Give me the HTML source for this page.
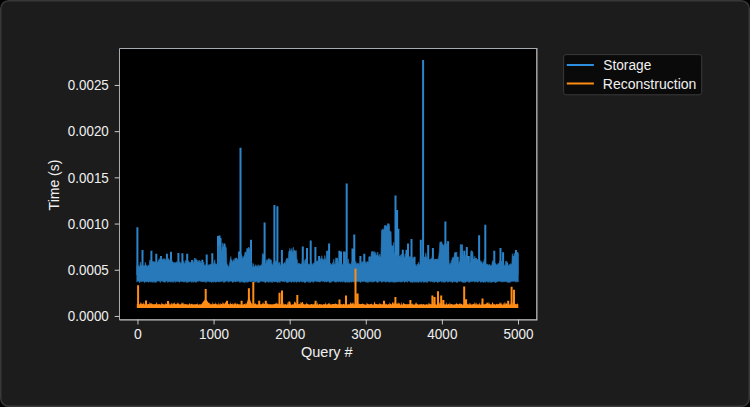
<!DOCTYPE html>
<html><head><meta charset="utf-8"><style>
html,body{margin:0;padding:0;background:#000;width:750px;height:407px;overflow:hidden}
svg{position:absolute;left:0;top:0}
text{font-family:"Liberation Sans",sans-serif;font-size:14px;fill:#f0f0f0}
</style></head><body>
<svg width="750" height="407" viewBox="0 0 750 407">
<rect x="0.75" y="0.75" width="748.5" height="405.5" rx="8" fill="#1c1c1c" stroke="#383838" stroke-width="1.5"/><rect x="120" y="49" width="416" height="270" fill="#000"/><path d="M137.4 227.2V275M142.5 250.0V275M151.4 250.8V275M156.3 253.8V275M161.0 256.0V275M166.9 253.8V275M171.0 251.8V275M178.4 253.0V275M182.4 253.3V275M187.2 253.8V275M192.0 260.0V275M196.0 259.7V275M202.3 259.7V275M206.7 254.5V275M212.3 253.3V275M218.0 236.0V275M219.5 235.6V275M220.5 238.0V275M224.4 243.4V275M231.0 259.7V275M235.5 258.2V275M239.1 251.5V275M240.5 147.7V275M245.6 252.3V275M248.0 248.6V275M251.0 239.7V275M263.8 254.5V275M264.6 222.6V275M270.0 259.7V275M274.4 205.0V275M277.4 206.2V275M281.9 250.0V275M286.6 260.4V275M290.0 251.0V275M292.5 252.3V275M295.0 251.0V275M302.8 246.4V275M307.0 247.9V275M310.7 240.5V275M315.4 247.1V275M319.1 256.0V275M327.2 250.8V275M329.1 243.4V275M336.8 258.2V275M339.4 250.8V275M341.0 251.5V275M344.1 251.5V275M346.7 183.6V275M352.5 248.6V275M354.3 234.6V275M360.4 256.0V275M364.3 253.8V275M369.5 256.7V275M372.5 251.8V275M382.5 229.4V275M385.5 225.7V275M388.2 223.6V275M390.3 232.0V275M392.5 246.4V275M395.5 195.4V275M397.1 210.0V275M398.4 228.8V275M402.8 249.7V275M406.5 249.7V275M408.0 243.5V275M411.5 239.0V275M414.5 256.7V275M420.8 239.7V275M423.1 59.9V275M425.5 256.7V275M428.2 244.9V275M432.9 247.9V275M435.9 259.0V275M441.0 242.0V275M445.4 221.6V275M448.1 241.2V275M453.0 259.0V275M455.5 252.3V275M457.7 256.7V275M461.7 244.9V275M464.3 250.8V275M466.8 247.1V275M468.8 256.0V275M471.8 251.5V275M476.0 258.2V275M479.1 235.3V275M485.3 224.7V275M494.3 250.8V275M500.5 247.9V275M503.1 252.3V275M507.1 262.6V275M513.7 256.0V275M516.0 250.0V275M517.4 252.3V275" stroke="#2c85cb" stroke-width="2" fill="none"/><path d="M136.8 266.8 L137.3 263.9 L137.8 264.0 L138.3 266.9 L138.8 265.8 L139.3 266.1 L139.8 267.6 L140.3 261.9 L140.8 264.8 L141.3 265.3 L141.8 265.6 L142.3 263.3 L142.8 265.6 L143.3 265.7 L143.8 266.0 L144.3 265.8 L144.8 265.4 L145.3 262.2 L145.8 264.3 L146.3 266.1 L146.8 265.5 L147.3 265.9 L147.8 266.4 L148.3 265.1 L148.8 266.5 L149.3 264.4 L149.8 259.9 L150.3 260.6 L150.8 261.9 L151.3 262.4 L151.8 261.0 L152.3 262.7 L152.8 261.0 L153.3 262.0 L153.8 261.6 L154.3 262.3 L154.8 261.5 L155.3 263.1 L155.8 262.4 L156.3 263.6 L156.8 261.7 L157.3 262.4 L157.8 262.1 L158.3 260.8 L158.8 259.7 L159.3 259.9 L159.8 258.5 L160.3 257.7 L160.8 258.3 L161.3 256.5 L161.8 259.2 L162.3 259.8 L162.8 259.0 L163.3 260.3 L163.8 258.4 L164.3 259.8 L164.8 258.7 L165.3 260.3 L165.8 260.1 L166.3 258.5 L166.8 256.7 L167.3 260.4 L167.8 260.5 L168.3 258.7 L168.8 258.7 L169.3 260.3 L169.8 260.2 L170.3 260.4 L170.8 259.7 L171.3 259.5 L171.8 259.6 L172.3 261.7 L172.8 262.1 L173.3 262.5 L173.8 263.3 L174.3 262.1 L174.8 263.3 L175.3 263.0 L175.8 262.6 L176.3 261.9 L176.8 261.7 L177.3 262.8 L177.8 263.7 L178.3 263.1 L178.8 262.3 L179.3 262.3 L179.8 261.6 L180.3 262.8 L180.8 263.5 L181.3 262.7 L181.8 263.1 L182.3 263.7 L182.8 263.1 L183.3 263.0 L183.8 260.9 L184.3 263.7 L184.8 263.7 L185.3 262.1 L185.8 260.1 L186.3 263.5 L186.8 261.2 L187.3 261.0 L187.8 260.9 L188.3 260.8 L188.8 261.7 L189.3 262.0 L189.8 262.3 L190.3 262.3 L190.8 263.1 L191.3 263.5 L191.8 260.0 L192.3 262.7 L192.8 260.9 L193.3 262.1 L193.8 263.4 L194.3 258.7 L194.8 258.0 L195.3 262.4 L195.8 258.2 L196.3 261.5 L196.8 262.1 L197.3 262.1 L197.8 260.2 L198.3 261.2 L198.8 262.0 L199.3 260.0 L199.8 263.1 L200.3 260.9 L200.8 262.9 L201.3 262.9 L201.8 263.8 L202.3 263.4 L202.8 261.8 L203.3 262.2 L203.8 262.1 L204.3 265.5 L204.8 265.6 L205.3 265.8 L205.8 264.6 L206.3 265.6 L206.8 265.5 L207.3 265.3 L207.8 265.2 L208.3 265.9 L208.8 264.4 L209.3 265.1 L209.8 265.1 L210.3 264.3 L210.8 263.9 L211.3 263.8 L211.8 264.6 L212.3 263.9 L212.8 262.4 L213.3 264.6 L213.8 264.7 L214.3 261.8 L214.8 259.7 L215.3 264.6 L215.8 263.7 L216.3 264.5 L216.8 263.8 L217.3 263.6 L217.8 246.3 L218.3 246.7 L218.8 245.0 L219.3 247.0 L219.8 245.6 L220.3 245.1 L220.8 249.7 L221.3 253.0 L221.8 248.8 L222.3 242.8 L222.8 248.4 L223.3 245.8 L223.8 246.6 L224.3 247.3 L224.8 246.2 L225.3 245.8 L225.8 248.1 L226.3 247.7 L226.8 263.0 L227.3 265.8 L227.8 264.7 L228.3 267.3 L228.8 267.1 L229.3 265.4 L229.8 262.3 L230.3 260.1 L230.8 256.5 L231.3 260.9 L231.8 260.2 L232.3 261.8 L232.8 261.9 L233.3 259.4 L233.8 261.2 L234.3 260.9 L234.8 260.7 L235.3 258.1 L235.8 258.9 L236.3 257.7 L236.8 258.3 L237.3 259.2 L237.8 260.0 L238.3 258.2 L238.8 255.4 L239.3 254.1 L239.8 255.6 L240.3 254.4 L240.8 252.7 L241.3 254.2 L241.8 255.3 L242.3 257.4 L242.8 259.3 L243.3 256.4 L243.8 258.7 L244.3 255.3 L244.8 254.9 L245.3 252.5 L245.8 251.7 L246.3 253.7 L246.8 248.5 L247.3 249.0 L247.8 249.2 L248.3 247.7 L248.8 247.0 L249.3 249.3 L249.8 248.7 L250.3 247.3 L250.8 262.7 L251.3 260.6 L251.8 262.0 L252.3 266.6 L252.8 267.4 L253.3 263.5 L253.8 266.3 L254.3 266.8 L254.8 266.5 L255.3 265.7 L255.8 264.6 L256.3 265.7 L256.8 267.4 L257.3 265.7 L257.8 265.9 L258.3 264.7 L258.8 267.5 L259.3 265.7 L259.8 266.0 L260.3 265.4 L260.8 266.0 L261.3 264.6 L261.8 266.3 L262.3 257.2 L262.8 253.1 L263.3 256.3 L263.8 265.0 L264.3 266.2 L264.8 263.3 L265.3 263.9 L265.8 264.6 L266.3 260.4 L266.8 259.6 L267.3 261.4 L267.8 260.0 L268.3 258.6 L268.8 259.6 L269.3 258.6 L269.8 261.1 L270.3 260.9 L270.8 259.5 L271.3 259.9 L271.8 263.9 L272.3 264.5 L272.8 265.5 L273.3 262.2 L273.8 264.7 L274.3 261.1 L274.8 263.3 L275.3 260.7 L275.8 262.6 L276.3 261.6 L276.8 260.7 L277.3 262.4 L277.8 263.7 L278.3 265.5 L278.8 262.8 L279.3 264.1 L279.8 261.9 L280.3 265.4 L280.8 264.7 L281.3 265.4 L281.8 264.9 L282.3 263.8 L282.8 263.1 L283.3 264.0 L283.8 264.3 L284.3 262.8 L284.8 262.2 L285.3 265.0 L285.8 263.0 L286.3 258.8 L286.8 258.5 L287.3 258.0 L287.8 259.0 L288.3 259.3 L288.8 251.6 L289.3 252.2 L289.8 248.3 L290.3 251.6 L290.8 250.7 L291.3 250.7 L291.8 248.5 L292.3 251.8 L292.8 253.0 L293.3 247.2 L293.8 252.4 L294.3 250.3 L294.8 250.2 L295.3 251.2 L295.8 250.9 L296.3 250.4 L296.8 258.7 L297.3 260.0 L297.8 264.8 L298.3 263.4 L298.8 263.0 L299.3 264.0 L299.8 263.6 L300.3 264.7 L300.8 263.8 L301.3 263.9 L301.8 263.9 L302.3 259.3 L302.8 262.9 L303.3 261.6 L303.8 264.5 L304.3 263.3 L304.8 260.1 L305.3 260.1 L305.8 258.7 L306.3 260.0 L306.8 261.5 L307.3 263.0 L307.8 263.5 L308.3 263.8 L308.8 265.3 L309.3 264.2 L309.8 264.5 L310.3 264.9 L310.8 259.5 L311.3 262.8 L311.8 264.9 L312.3 264.7 L312.8 264.1 L313.3 263.0 L313.8 265.0 L314.3 262.4 L314.8 264.6 L315.3 262.2 L315.8 262.0 L316.3 261.8 L316.8 261.1 L317.3 261.1 L317.8 260.6 L318.3 261.9 L318.8 262.3 L319.3 261.0 L319.8 261.5 L320.3 259.6 L320.8 258.4 L321.3 258.9 L321.8 255.7 L322.3 260.9 L322.8 258.6 L323.3 260.7 L323.8 259.0 L324.3 260.7 L324.8 255.5 L325.3 258.4 L325.8 259.3 L326.3 260.0 L326.8 263.8 L327.3 251.2 L327.8 252.8 L328.3 253.4 L328.8 252.0 L329.3 262.4 L329.8 264.0 L330.3 263.1 L330.8 264.5 L331.3 264.2 L331.8 264.8 L332.3 264.4 L332.8 262.6 L333.3 263.7 L333.8 259.2 L334.3 263.5 L334.8 264.5 L335.3 263.6 L335.8 257.7 L336.3 258.1 L336.8 259.4 L337.3 257.8 L337.8 263.0 L338.3 263.4 L338.8 260.7 L339.3 262.0 L339.8 260.2 L340.3 263.1 L340.8 263.3 L341.3 264.3 L341.8 263.1 L342.3 265.1 L342.8 264.4 L343.3 264.3 L343.8 265.8 L344.3 263.6 L344.8 263.6 L345.3 252.4 L345.8 251.7 L346.3 261.8 L346.8 258.1 L347.3 262.9 L347.8 261.4 L348.3 259.0 L348.8 263.9 L349.3 263.7 L349.8 263.6 L350.3 265.4 L350.8 263.8 L351.3 265.3 L351.8 261.7 L352.3 262.2 L352.8 262.4 L353.3 260.9 L353.8 261.8 L354.3 261.2 L354.8 261.7 L355.3 262.2 L355.8 261.3 L356.3 265.4 L356.8 263.3 L357.3 263.7 L357.8 263.1 L358.3 263.4 L358.8 263.4 L359.3 265.7 L359.8 265.4 L360.3 261.4 L360.8 263.6 L361.3 263.5 L361.8 261.6 L362.3 261.3 L362.8 262.9 L363.3 261.6 L363.8 263.9 L364.3 263.7 L364.8 261.0 L365.3 262.3 L365.8 263.3 L366.3 263.3 L366.8 261.5 L367.3 261.9 L367.8 261.5 L368.3 262.7 L368.8 262.4 L369.3 257.3 L369.8 256.3 L370.3 257.0 L370.8 258.1 L371.3 253.3 L371.8 251.5 L372.3 253.4 L372.8 251.3 L373.3 253.9 L373.8 252.3 L374.3 251.4 L374.8 253.1 L375.3 255.4 L375.8 252.3 L376.3 255.5 L376.8 255.0 L377.3 254.6 L377.8 252.0 L378.3 256.2 L378.8 256.0 L379.3 257.0 L379.8 254.1 L380.3 256.5 L380.8 257.2 L381.3 243.9 L381.8 231.3 L382.3 230.3 L382.8 228.9 L383.3 230.8 L383.8 229.8 L384.3 227.1 L384.8 225.3 L385.3 226.0 L385.8 225.2 L386.3 226.6 L386.8 226.1 L387.3 226.0 L387.8 225.4 L388.3 224.8 L388.8 224.1 L389.3 224.5 L389.8 231.3 L390.3 232.3 L390.8 231.2 L391.3 244.8 L391.8 245.6 L392.3 247.0 L392.8 245.5 L393.3 247.0 L393.8 242.3 L394.3 254.9 L394.8 252.9 L395.3 256.0 L395.8 255.9 L396.3 256.0 L396.8 255.3 L397.3 253.9 L397.8 254.9 L398.3 256.0 L398.8 256.2 L399.3 256.2 L399.8 256.1 L400.3 256.8 L400.8 254.8 L401.3 258.1 L401.8 254.0 L402.3 258.5 L402.8 257.1 L403.3 257.1 L403.8 253.7 L404.3 257.4 L404.8 257.3 L405.3 256.2 L405.8 253.5 L406.3 258.4 L406.8 258.4 L407.3 257.7 L407.8 257.3 L408.3 258.5 L408.8 256.2 L409.3 258.0 L409.8 256.4 L410.3 257.5 L410.8 256.3 L411.3 256.7 L411.8 258.5 L412.3 257.2 L412.8 258.5 L413.3 258.8 L413.8 257.8 L414.3 261.9 L414.8 266.6 L415.3 265.3 L415.8 264.4 L416.3 265.4 L416.8 266.6 L417.3 264.0 L417.8 266.7 L418.3 262.1 L418.8 264.2 L419.3 264.4 L419.8 265.0 L420.3 258.2 L420.8 253.1 L421.3 256.1 L421.8 257.8 L422.3 257.3 L422.8 255.9 L423.3 257.6 L423.8 256.9 L424.3 257.1 L424.8 257.5 L425.3 256.5 L425.8 252.8 L426.3 256.4 L426.8 257.9 L427.3 259.2 L427.8 258.6 L428.3 258.6 L428.8 260.0 L429.3 260.1 L429.8 259.3 L430.3 259.1 L430.8 260.1 L431.3 258.0 L431.8 260.2 L432.3 256.4 L432.8 261.1 L433.3 256.1 L433.8 261.5 L434.3 258.9 L434.8 260.4 L435.3 260.2 L435.8 259.8 L436.3 259.6 L436.8 260.0 L437.3 259.9 L437.8 258.6 L438.3 260.2 L438.8 255.7 L439.3 251.7 L439.8 242.7 L440.3 241.7 L440.8 242.8 L441.3 242.4 L441.8 241.6 L442.3 245.0 L442.8 243.9 L443.3 245.4 L443.8 245.6 L444.3 244.9 L444.8 243.8 L445.3 245.4 L445.8 245.4 L446.3 243.8 L446.8 245.8 L447.3 241.3 L447.8 244.6 L448.3 244.4 L448.8 259.7 L449.3 263.9 L449.8 264.7 L450.3 263.1 L450.8 264.9 L451.3 260.3 L451.8 264.1 L452.3 257.4 L452.8 258.7 L453.3 257.4 L453.8 257.5 L454.3 255.4 L454.8 252.9 L455.3 255.8 L455.8 257.3 L456.3 256.6 L456.8 251.9 L457.3 263.9 L457.8 264.7 L458.3 264.4 L458.8 263.5 L459.3 261.1 L459.8 261.4 L460.3 244.2 L460.8 246.4 L461.3 244.6 L461.8 245.1 L462.3 244.4 L462.8 253.4 L463.3 254.8 L463.8 255.4 L464.3 255.4 L464.8 256.5 L465.3 255.3 L465.8 257.4 L466.3 256.1 L466.8 259.4 L467.3 257.1 L467.8 257.9 L468.3 262.7 L468.8 263.9 L469.3 263.9 L469.8 262.8 L470.3 261.7 L470.8 251.8 L471.3 250.5 L471.8 251.7 L472.3 251.5 L472.8 252.1 L473.3 258.5 L473.8 259.1 L474.3 258.9 L474.8 256.2 L475.3 260.2 L475.8 258.2 L476.3 258.4 L476.8 258.9 L477.3 260.1 L477.8 259.4 L478.3 261.2 L478.8 260.5 L479.3 262.2 L479.8 262.7 L480.3 262.0 L480.8 260.5 L481.3 262.9 L481.8 261.7 L482.3 263.9 L482.8 263.8 L483.3 261.5 L483.8 262.9 L484.3 258.9 L484.8 261.3 L485.3 261.5 L485.8 263.3 L486.3 264.2 L486.8 264.5 L487.3 264.1 L487.8 264.6 L488.3 265.1 L488.8 265.4 L489.3 264.0 L489.8 265.6 L490.3 265.3 L490.8 266.0 L491.3 266.1 L491.8 264.5 L492.3 261.5 L492.8 260.6 L493.3 261.9 L493.8 261.2 L494.3 263.4 L494.8 262.7 L495.3 263.2 L495.8 263.5 L496.3 264.8 L496.8 265.0 L497.3 265.3 L497.8 263.6 L498.3 263.7 L498.8 263.2 L499.3 263.0 L499.8 260.8 L500.3 262.0 L500.8 262.9 L501.3 261.3 L501.8 261.0 L502.3 262.9 L502.8 261.8 L503.3 263.5 L503.8 264.1 L504.3 265.4 L504.8 265.8 L505.3 265.0 L505.8 261.1 L506.3 264.6 L506.8 261.1 L507.3 266.0 L507.8 265.2 L508.3 265.2 L508.8 265.2 L509.3 265.4 L509.8 264.1 L510.3 264.2 L510.8 263.5 L511.3 264.2 L511.8 265.1 L512.3 253.6 L512.8 256.6 L513.3 257.2 L513.8 256.3 L514.3 253.2 L514.8 255.6 L515.3 253.7 L515.8 253.7 L516.3 254.5 L516.8 253.6 L517.3 255.8 L517.8 254.8 L518.3 253.7 L518.3 281.9 L517.8 282.1 L517.3 281.2 L516.8 281.2 L516.3 282.1 L515.8 282.2 L515.3 281.0 L514.8 281.0 L514.3 281.4 L513.8 281.2 L513.3 281.2 L512.8 281.0 L512.3 281.5 L511.8 281.8 L511.3 281.1 L510.8 281.2 L510.3 282.4 L509.8 282.1 L509.3 282.5 L508.8 281.9 L508.3 282.4 L507.8 282.5 L507.3 281.9 L506.8 281.8 L506.3 281.5 L505.8 281.8 L505.3 281.3 L504.8 282.1 L504.3 280.8 L503.8 281.9 L503.3 281.1 L502.8 282.2 L502.3 281.5 L501.8 281.8 L501.3 281.8 L500.8 282.0 L500.3 281.3 L499.8 281.4 L499.3 280.9 L498.8 281.4 L498.3 281.1 L497.8 281.7 L497.3 281.6 L496.8 282.3 L496.3 281.0 L495.8 282.6 L495.3 282.3 L494.8 282.6 L494.3 281.7 L493.8 281.8 L493.3 281.5 L492.8 282.0 L492.3 281.9 L491.8 282.0 L491.3 282.6 L490.8 282.5 L490.3 280.9 L489.8 281.6 L489.3 282.3 L488.8 282.5 L488.3 281.8 L487.8 281.1 L487.3 282.3 L486.8 281.5 L486.3 281.3 L485.8 281.6 L485.3 282.4 L484.8 281.8 L484.3 281.9 L483.8 282.4 L483.3 282.1 L482.8 282.2 L482.3 281.7 L481.8 281.9 L481.3 281.4 L480.8 282.5 L480.3 282.1 L479.8 280.9 L479.3 280.9 L478.8 281.3 L478.3 281.7 L477.8 282.4 L477.3 281.9 L476.8 281.2 L476.3 281.6 L475.8 281.6 L475.3 282.0 L474.8 282.3 L474.3 281.2 L473.8 281.3 L473.3 281.1 L472.8 281.3 L472.3 281.9 L471.8 281.3 L471.3 281.6 L470.8 281.9 L470.3 281.3 L469.8 282.0 L469.3 282.4 L468.8 282.5 L468.3 281.1 L467.8 281.6 L467.3 281.5 L466.8 281.2 L466.3 281.7 L465.8 282.3 L465.3 282.6 L464.8 281.2 L464.3 282.5 L463.8 282.3 L463.3 282.5 L462.8 282.1 L462.3 282.3 L461.8 281.5 L461.3 281.7 L460.8 280.9 L460.3 281.0 L459.8 281.8 L459.3 281.2 L458.8 280.9 L458.3 281.0 L457.8 282.5 L457.3 281.8 L456.8 282.5 L456.3 282.2 L455.8 281.4 L455.3 282.1 L454.8 281.6 L454.3 281.9 L453.8 281.5 L453.3 281.3 L452.8 282.4 L452.3 282.4 L451.8 282.3 L451.3 281.5 L450.8 281.2 L450.3 282.1 L449.8 281.3 L449.3 281.0 L448.8 282.1 L448.3 281.0 L447.8 282.4 L447.3 281.7 L446.8 281.1 L446.3 280.8 L445.8 282.1 L445.3 281.3 L444.8 282.6 L444.3 281.2 L443.8 281.7 L443.3 282.4 L442.8 281.0 L442.3 281.7 L441.8 282.3 L441.3 281.5 L440.8 281.1 L440.3 280.9 L439.8 281.9 L439.3 281.4 L438.8 282.3 L438.3 281.6 L437.8 282.4 L437.3 282.5 L436.8 282.1 L436.3 281.1 L435.8 281.7 L435.3 281.4 L434.8 281.9 L434.3 282.5 L433.8 280.9 L433.3 282.1 L432.8 282.3 L432.3 281.4 L431.8 281.2 L431.3 281.1 L430.8 282.0 L430.3 281.8 L429.8 281.0 L429.3 280.9 L428.8 281.6 L428.3 280.9 L427.8 281.2 L427.3 282.5 L426.8 282.5 L426.3 281.3 L425.8 282.4 L425.3 280.8 L424.8 281.9 L424.3 281.9 L423.8 282.6 L423.3 281.7 L422.8 281.5 L422.3 281.1 L421.8 281.7 L421.3 282.4 L420.8 282.2 L420.3 281.6 L419.8 281.3 L419.3 282.0 L418.8 282.5 L418.3 282.2 L417.8 281.4 L417.3 282.3 L416.8 281.8 L416.3 282.3 L415.8 282.3 L415.3 281.3 L414.8 282.3 L414.3 282.0 L413.8 281.6 L413.3 282.3 L412.8 281.4 L412.3 282.6 L411.8 281.8 L411.3 282.2 L410.8 281.9 L410.3 282.2 L409.8 281.6 L409.3 280.9 L408.8 281.1 L408.3 280.9 L407.8 280.8 L407.3 282.5 L406.8 281.6 L406.3 281.0 L405.8 282.1 L405.3 281.1 L404.8 282.1 L404.3 282.4 L403.8 281.0 L403.3 280.8 L402.8 282.0 L402.3 281.7 L401.8 281.9 L401.3 281.6 L400.8 282.3 L400.3 281.8 L399.8 282.0 L399.3 281.6 L398.8 281.8 L398.3 281.5 L397.8 282.2 L397.3 281.0 L396.8 282.0 L396.3 281.9 L395.8 281.9 L395.3 282.2 L394.8 282.5 L394.3 281.3 L393.8 282.4 L393.3 282.2 L392.8 281.3 L392.3 282.2 L391.8 281.7 L391.3 281.5 L390.8 282.3 L390.3 281.6 L389.8 281.7 L389.3 282.4 L388.8 282.1 L388.3 281.7 L387.8 281.4 L387.3 281.9 L386.8 281.9 L386.3 281.6 L385.8 282.0 L385.3 282.3 L384.8 281.8 L384.3 281.1 L383.8 281.7 L383.3 281.3 L382.8 281.6 L382.3 282.0 L381.8 282.2 L381.3 282.2 L380.8 281.1 L380.3 281.1 L379.8 281.2 L379.3 281.3 L378.8 280.8 L378.3 282.3 L377.8 282.4 L377.3 282.3 L376.8 282.0 L376.3 281.7 L375.8 281.3 L375.3 281.1 L374.8 281.5 L374.3 281.4 L373.8 281.8 L373.3 282.3 L372.8 281.4 L372.3 281.8 L371.8 282.3 L371.3 281.2 L370.8 281.2 L370.3 282.1 L369.8 281.4 L369.3 281.6 L368.8 281.3 L368.3 282.6 L367.8 281.5 L367.3 282.5 L366.8 282.3 L366.3 282.1 L365.8 281.0 L365.3 282.2 L364.8 280.9 L364.3 281.5 L363.8 281.1 L363.3 281.5 L362.8 281.6 L362.3 282.1 L361.8 281.0 L361.3 281.6 L360.8 282.3 L360.3 282.4 L359.8 281.6 L359.3 281.6 L358.8 281.5 L358.3 281.6 L357.8 282.0 L357.3 280.9 L356.8 281.0 L356.3 281.6 L355.8 282.6 L355.3 282.5 L354.8 282.6 L354.3 281.1 L353.8 281.2 L353.3 282.3 L352.8 281.1 L352.3 281.6 L351.8 282.2 L351.3 282.1 L350.8 281.1 L350.3 282.0 L349.8 281.8 L349.3 282.4 L348.8 282.4 L348.3 280.8 L347.8 282.4 L347.3 281.4 L346.8 282.1 L346.3 281.9 L345.8 282.1 L345.3 282.5 L344.8 281.4 L344.3 282.2 L343.8 280.8 L343.3 281.2 L342.8 282.3 L342.3 281.2 L341.8 281.4 L341.3 281.5 L340.8 282.3 L340.3 281.4 L339.8 281.3 L339.3 281.6 L338.8 282.2 L338.3 281.3 L337.8 281.9 L337.3 280.9 L336.8 281.0 L336.3 282.4 L335.8 282.3 L335.3 281.9 L334.8 282.1 L334.3 280.9 L333.8 281.4 L333.3 280.8 L332.8 280.9 L332.3 281.4 L331.8 281.6 L331.3 282.3 L330.8 282.0 L330.3 282.4 L329.8 282.4 L329.3 282.5 L328.8 281.3 L328.3 281.2 L327.8 281.3 L327.3 281.6 L326.8 282.1 L326.3 282.1 L325.8 281.2 L325.3 281.6 L324.8 282.1 L324.3 282.1 L323.8 280.9 L323.3 281.1 L322.8 281.7 L322.3 281.1 L321.8 280.8 L321.3 281.2 L320.8 280.9 L320.3 282.1 L319.8 282.0 L319.3 282.0 L318.8 281.5 L318.3 281.9 L317.8 281.2 L317.3 281.7 L316.8 281.9 L316.3 281.4 L315.8 280.8 L315.3 281.2 L314.8 281.7 L314.3 281.1 L313.8 281.4 L313.3 282.6 L312.8 282.3 L312.3 281.1 L311.8 281.4 L311.3 281.3 L310.8 281.9 L310.3 282.4 L309.8 282.4 L309.3 281.8 L308.8 281.1 L308.3 282.5 L307.8 280.9 L307.3 281.3 L306.8 281.7 L306.3 281.3 L305.8 282.2 L305.3 282.5 L304.8 282.4 L304.3 282.6 L303.8 282.1 L303.3 281.0 L302.8 281.7 L302.3 282.2 L301.8 281.9 L301.3 281.6 L300.8 281.0 L300.3 281.1 L299.8 282.2 L299.3 281.9 L298.8 281.6 L298.3 281.8 L297.8 281.9 L297.3 281.0 L296.8 282.2 L296.3 282.4 L295.8 281.0 L295.3 281.5 L294.8 282.3 L294.3 281.2 L293.8 282.3 L293.3 281.5 L292.8 281.7 L292.3 281.0 L291.8 282.2 L291.3 282.5 L290.8 281.1 L290.3 281.9 L289.8 282.0 L289.3 281.1 L288.8 281.5 L288.3 282.4 L287.8 282.1 L287.3 282.6 L286.8 281.4 L286.3 282.5 L285.8 281.5 L285.3 281.0 L284.8 281.5 L284.3 281.8 L283.8 281.4 L283.3 281.4 L282.8 282.0 L282.3 281.2 L281.8 281.2 L281.3 281.0 L280.8 281.3 L280.3 281.5 L279.8 282.6 L279.3 281.3 L278.8 282.3 L278.3 281.0 L277.8 282.3 L277.3 282.6 L276.8 281.8 L276.3 281.2 L275.8 282.1 L275.3 281.3 L274.8 282.0 L274.3 282.0 L273.8 281.2 L273.3 281.7 L272.8 281.3 L272.3 282.6 L271.8 280.9 L271.3 282.2 L270.8 282.2 L270.3 281.4 L269.8 282.3 L269.3 281.1 L268.8 281.6 L268.3 282.5 L267.8 281.2 L267.3 281.9 L266.8 280.8 L266.3 282.1 L265.8 282.5 L265.3 282.4 L264.8 282.5 L264.3 280.9 L263.8 281.5 L263.3 281.5 L262.8 281.5 L262.3 281.6 L261.8 281.4 L261.3 281.0 L260.8 281.3 L260.3 281.4 L259.8 282.0 L259.3 282.5 L258.8 282.5 L258.3 282.4 L257.8 280.9 L257.3 282.6 L256.8 281.1 L256.3 281.6 L255.8 281.7 L255.3 282.2 L254.8 282.3 L254.3 281.2 L253.8 282.2 L253.3 281.6 L252.8 281.2 L252.3 281.3 L251.8 281.7 L251.3 282.1 L250.8 281.2 L250.3 282.0 L249.8 281.3 L249.3 281.2 L248.8 281.7 L248.3 282.1 L247.8 281.0 L247.3 282.5 L246.8 280.9 L246.3 282.2 L245.8 282.5 L245.3 281.1 L244.8 282.6 L244.3 282.5 L243.8 281.9 L243.3 282.1 L242.8 282.4 L242.3 281.6 L241.8 281.3 L241.3 281.9 L240.8 282.5 L240.3 281.4 L239.8 281.5 L239.3 282.4 L238.8 281.2 L238.3 281.0 L237.8 281.6 L237.3 281.2 L236.8 281.2 L236.3 281.5 L235.8 282.0 L235.3 282.1 L234.8 281.6 L234.3 280.9 L233.8 282.2 L233.3 280.9 L232.8 282.5 L232.3 282.3 L231.8 281.5 L231.3 281.3 L230.8 281.3 L230.3 280.9 L229.8 281.4 L229.3 281.5 L228.8 282.4 L228.3 281.0 L227.8 280.8 L227.3 281.4 L226.8 281.6 L226.3 280.8 L225.8 281.2 L225.3 281.7 L224.8 282.5 L224.3 281.8 L223.8 281.2 L223.3 282.5 L222.8 280.8 L222.3 281.2 L221.8 281.6 L221.3 281.3 L220.8 282.0 L220.3 280.8 L219.8 282.1 L219.3 280.9 L218.8 282.2 L218.3 281.5 L217.8 282.1 L217.3 281.3 L216.8 282.1 L216.3 281.8 L215.8 282.2 L215.3 282.0 L214.8 281.8 L214.3 281.4 L213.8 281.2 L213.3 282.4 L212.8 282.2 L212.3 281.7 L211.8 282.1 L211.3 282.3 L210.8 282.1 L210.3 281.4 L209.8 282.1 L209.3 281.8 L208.8 281.3 L208.3 281.5 L207.8 280.8 L207.3 281.7 L206.8 280.8 L206.3 282.5 L205.8 282.6 L205.3 281.6 L204.8 281.3 L204.3 282.0 L203.8 281.0 L203.3 282.1 L202.8 280.9 L202.3 281.9 L201.8 281.4 L201.3 281.7 L200.8 281.7 L200.3 281.0 L199.8 281.1 L199.3 280.8 L198.8 281.4 L198.3 281.3 L197.8 281.4 L197.3 281.1 L196.8 281.7 L196.3 282.5 L195.8 281.6 L195.3 282.3 L194.8 281.9 L194.3 281.6 L193.8 281.0 L193.3 282.5 L192.8 282.3 L192.3 281.0 L191.8 280.9 L191.3 282.5 L190.8 280.9 L190.3 281.4 L189.8 281.8 L189.3 281.4 L188.8 281.7 L188.3 282.3 L187.8 281.5 L187.3 282.5 L186.8 282.0 L186.3 282.4 L185.8 280.9 L185.3 281.6 L184.8 282.3 L184.3 281.3 L183.8 282.1 L183.3 281.8 L182.8 281.7 L182.3 281.6 L181.8 281.8 L181.3 281.3 L180.8 281.0 L180.3 281.7 L179.8 282.1 L179.3 282.2 L178.8 281.6 L178.3 281.8 L177.8 281.6 L177.3 281.6 L176.8 281.0 L176.3 281.9 L175.8 281.3 L175.3 282.4 L174.8 281.7 L174.3 280.8 L173.8 281.4 L173.3 282.3 L172.8 282.4 L172.3 281.1 L171.8 281.5 L171.3 282.2 L170.8 281.1 L170.3 282.2 L169.8 281.0 L169.3 281.7 L168.8 281.9 L168.3 281.2 L167.8 282.5 L167.3 281.6 L166.8 281.3 L166.3 280.9 L165.8 281.2 L165.3 282.3 L164.8 282.3 L164.3 282.2 L163.8 281.1 L163.3 282.1 L162.8 281.8 L162.3 281.1 L161.8 280.8 L161.3 281.3 L160.8 281.0 L160.3 282.6 L159.8 281.5 L159.3 281.1 L158.8 280.8 L158.3 281.1 L157.8 281.4 L157.3 280.9 L156.8 281.0 L156.3 282.2 L155.8 282.4 L155.3 281.9 L154.8 282.5 L154.3 281.6 L153.8 281.9 L153.3 281.2 L152.8 282.5 L152.3 281.5 L151.8 282.3 L151.3 281.6 L150.8 281.5 L150.3 282.2 L149.8 281.1 L149.3 282.0 L148.8 282.3 L148.3 282.1 L147.8 281.7 L147.3 281.6 L146.8 282.1 L146.3 281.8 L145.8 280.9 L145.3 282.2 L144.8 282.6 L144.3 282.4 L143.8 281.2 L143.3 281.3 L142.8 281.4 L142.3 281.2 L141.8 281.8 L141.3 281.8 L140.8 281.4 L140.3 281.3 L139.8 282.6 L139.3 282.5 L138.8 281.0 L138.3 281.0 L137.8 280.9 L137.3 281.5 L136.8 282.0Z" fill="#2879b9" stroke="#2879b9" stroke-width="0.6"/><path d="M136.8 304.0 L137.3 303.9 L137.8 303.8 L138.3 304.3 L138.8 304.5 L139.3 304.4 L139.8 304.0 L140.3 303.8 L140.8 301.8 L141.3 304.4 L141.8 302.4 L142.3 304.3 L142.8 303.8 L143.3 303.9 L143.8 302.1 L144.3 304.1 L144.8 304.6 L145.3 304.6 L145.8 302.9 L146.3 302.1 L146.8 304.1 L147.3 304.4 L147.8 304.0 L148.3 304.1 L148.8 303.9 L149.3 301.7 L149.8 304.5 L150.3 303.4 L150.8 303.1 L151.3 304.1 L151.8 302.9 L152.3 303.9 L152.8 304.3 L153.3 304.0 L153.8 304.5 L154.3 303.7 L154.8 304.6 L155.3 303.7 L155.8 304.4 L156.3 303.0 L156.8 301.9 L157.3 304.7 L157.8 303.8 L158.3 304.1 L158.8 304.6 L159.3 303.8 L159.8 304.2 L160.3 304.5 L160.8 304.6 L161.3 304.2 L161.8 302.1 L162.3 304.3 L162.8 303.8 L163.3 303.7 L163.8 304.6 L164.3 304.3 L164.8 304.4 L165.3 304.0 L165.8 302.8 L166.3 303.9 L166.8 303.9 L167.3 304.4 L167.8 304.0 L168.3 304.2 L168.8 304.1 L169.3 304.7 L169.8 302.4 L170.3 304.6 L170.8 304.5 L171.3 302.2 L171.8 304.2 L172.3 304.6 L172.8 302.9 L173.3 303.9 L173.8 302.9 L174.3 302.1 L174.8 303.8 L175.3 304.2 L175.8 303.9 L176.3 303.5 L176.8 304.5 L177.3 302.1 L177.8 304.3 L178.3 302.5 L178.8 303.9 L179.3 303.7 L179.8 304.4 L180.3 304.7 L180.8 304.0 L181.3 303.9 L181.8 302.0 L182.3 304.0 L182.8 302.2 L183.3 304.7 L183.8 301.9 L184.3 304.5 L184.8 303.9 L185.3 304.1 L185.8 304.3 L186.3 304.6 L186.8 303.7 L187.3 304.4 L187.8 304.5 L188.3 304.7 L188.8 304.2 L189.3 302.9 L189.8 303.8 L190.3 303.9 L190.8 304.8 L191.3 303.4 L191.8 303.9 L192.3 303.7 L192.8 304.6 L193.3 304.2 L193.8 304.4 L194.3 304.2 L194.8 304.2 L195.3 304.6 L195.8 303.9 L196.3 304.2 L196.8 304.1 L197.3 303.3 L197.8 304.2 L198.3 304.7 L198.8 304.8 L199.3 304.4 L199.8 303.8 L200.3 304.4 L200.8 304.3 L201.3 304.2 L201.8 303.6 L202.3 302.9 L202.8 302.2 L203.3 301.6 L203.8 300.9 L204.3 300.2 L204.8 299.5 L205.3 298.9 L205.8 299.0 L206.3 299.7 L206.8 300.4 L207.3 301.0 L207.8 301.7 L208.3 302.4 L208.8 303.1 L209.3 302.5 L209.8 303.8 L210.3 303.8 L210.8 304.6 L211.3 304.5 L211.8 303.8 L212.3 304.5 L212.8 301.8 L213.3 303.9 L213.8 304.3 L214.3 303.9 L214.8 303.8 L215.3 304.1 L215.8 302.3 L216.3 304.0 L216.8 304.2 L217.3 304.4 L217.8 304.3 L218.3 304.7 L218.8 302.0 L219.3 304.5 L219.8 304.6 L220.3 302.8 L220.8 304.7 L221.3 303.7 L221.8 303.8 L222.3 304.6 L222.8 301.6 L223.3 304.0 L223.8 302.6 L224.3 304.3 L224.8 303.5 L225.3 301.9 L225.8 302.4 L226.3 304.5 L226.8 303.9 L227.3 304.3 L227.8 304.6 L228.3 303.7 L228.8 303.9 L229.3 304.7 L229.8 303.7 L230.3 301.9 L230.8 304.1 L231.3 303.9 L231.8 304.1 L232.3 304.4 L232.8 302.8 L233.3 304.7 L233.8 303.7 L234.3 302.8 L234.8 304.3 L235.3 304.1 L235.8 302.3 L236.3 303.7 L236.8 304.8 L237.3 303.2 L237.8 304.0 L238.3 304.3 L238.8 304.3 L239.3 304.8 L239.8 303.7 L240.3 304.5 L240.8 304.6 L241.3 304.4 L241.8 304.0 L242.3 304.7 L242.8 304.4 L243.3 304.5 L243.8 304.3 L244.3 304.1 L244.8 304.1 L245.3 302.8 L245.8 304.8 L246.3 304.1 L246.8 303.0 L247.3 301.4 L247.8 299.8 L248.3 298.2 L248.8 296.6 L249.3 297.0 L249.8 298.6 L250.3 300.2 L250.8 301.8 L251.3 303.4 L251.8 303.1 L252.3 304.8 L252.8 304.6 L253.3 304.7 L253.8 302.5 L254.3 304.0 L254.8 303.7 L255.3 303.0 L255.8 303.9 L256.3 303.9 L256.8 304.7 L257.3 303.9 L257.8 304.8 L258.3 303.8 L258.8 304.7 L259.3 303.9 L259.8 302.4 L260.3 304.4 L260.8 303.9 L261.3 304.5 L261.8 304.1 L262.3 304.1 L262.8 302.7 L263.3 302.2 L263.8 304.2 L264.3 304.0 L264.8 303.7 L265.3 304.3 L265.8 303.8 L266.3 304.5 L266.8 303.8 L267.3 303.2 L267.8 303.8 L268.3 304.2 L268.8 304.3 L269.3 304.4 L269.8 304.1 L270.3 304.0 L270.8 304.5 L271.3 304.0 L271.8 304.8 L272.3 304.0 L272.8 304.7 L273.3 303.5 L273.8 304.4 L274.3 304.1 L274.8 304.0 L275.3 303.8 L275.8 303.2 L276.3 302.5 L276.8 303.9 L277.3 304.1 L277.8 303.1 L278.3 304.7 L278.8 303.4 L279.3 304.0 L279.8 304.2 L280.3 304.1 L280.8 304.2 L281.3 304.7 L281.8 302.0 L282.3 302.2 L282.8 304.7 L283.3 302.4 L283.8 304.7 L284.3 304.4 L284.8 304.0 L285.3 304.2 L285.8 303.9 L286.3 304.4 L286.8 304.8 L287.3 304.3 L287.8 301.8 L288.3 304.0 L288.8 304.6 L289.3 304.1 L289.8 304.7 L290.3 302.1 L290.8 304.2 L291.3 304.7 L291.8 304.7 L292.3 304.6 L292.8 303.9 L293.3 304.8 L293.8 303.7 L294.3 301.6 L294.8 301.7 L295.3 302.0 L295.8 303.2 L296.3 303.8 L296.8 304.7 L297.3 304.7 L297.8 303.7 L298.3 304.6 L298.8 303.7 L299.3 304.0 L299.8 303.8 L300.3 301.5 L300.8 304.7 L301.3 302.5 L301.8 302.6 L302.3 302.1 L302.8 302.0 L303.3 303.8 L303.8 304.2 L304.3 304.1 L304.8 304.8 L305.3 304.5 L305.8 303.9 L306.3 303.8 L306.8 302.5 L307.3 304.3 L307.8 303.7 L308.3 304.4 L308.8 304.3 L309.3 304.8 L309.8 304.5 L310.3 304.1 L310.8 304.8 L311.3 304.1 L311.8 303.9 L312.3 303.7 L312.8 304.7 L313.3 304.4 L313.8 304.0 L314.3 303.3 L314.8 304.6 L315.3 303.8 L315.8 304.1 L316.3 304.3 L316.8 304.8 L317.3 302.0 L317.8 304.3 L318.3 304.8 L318.8 304.4 L319.3 304.1 L319.8 304.1 L320.3 304.4 L320.8 304.1 L321.3 304.3 L321.8 304.4 L322.3 304.7 L322.8 304.5 L323.3 304.2 L323.8 303.9 L324.3 304.3 L324.8 304.3 L325.3 304.0 L325.8 301.9 L326.3 304.4 L326.8 304.7 L327.3 303.7 L327.8 304.6 L328.3 303.8 L328.8 303.0 L329.3 302.8 L329.8 304.3 L330.3 303.8 L330.8 304.8 L331.3 304.2 L331.8 304.6 L332.3 303.9 L332.8 304.1 L333.3 304.0 L333.8 304.1 L334.3 303.7 L334.8 304.3 L335.3 303.1 L335.8 304.0 L336.3 304.0 L336.8 303.8 L337.3 304.6 L337.8 304.2 L338.3 304.4 L338.8 303.7 L339.3 304.1 L339.8 304.0 L340.3 304.4 L340.8 304.1 L341.3 304.3 L341.8 303.9 L342.3 304.5 L342.8 304.4 L343.3 303.8 L343.8 304.1 L344.3 304.2 L344.8 304.5 L345.3 302.3 L345.8 304.2 L346.3 304.2 L346.8 304.7 L347.3 304.2 L347.8 304.6 L348.3 304.5 L348.8 303.7 L349.3 304.3 L349.8 304.5 L350.3 303.1 L350.8 301.9 L351.3 303.3 L351.8 304.3 L352.3 302.1 L352.8 304.2 L353.3 302.1 L353.8 304.3 L354.3 304.6 L354.8 303.9 L355.3 304.3 L355.8 301.5 L356.3 304.0 L356.8 304.0 L357.3 304.3 L357.8 304.2 L358.3 302.9 L358.8 304.6 L359.3 304.0 L359.8 303.8 L360.3 304.1 L360.8 304.2 L361.3 304.1 L361.8 303.9 L362.3 304.3 L362.8 302.9 L363.3 304.1 L363.8 304.1 L364.3 304.6 L364.8 304.5 L365.3 304.4 L365.8 304.7 L366.3 304.7 L366.8 302.6 L367.3 303.8 L367.8 303.8 L368.3 303.9 L368.8 304.3 L369.3 304.2 L369.8 304.4 L370.3 303.9 L370.8 303.9 L371.3 303.9 L371.8 303.3 L372.3 304.7 L372.8 304.4 L373.3 304.7 L373.8 303.9 L374.3 302.1 L374.8 301.8 L375.3 304.0 L375.8 304.1 L376.3 303.9 L376.8 304.1 L377.3 303.9 L377.8 304.8 L378.3 303.7 L378.8 304.4 L379.3 304.3 L379.8 302.6 L380.3 304.2 L380.8 303.8 L381.3 303.8 L381.8 304.8 L382.3 304.3 L382.8 304.1 L383.3 304.2 L383.8 303.8 L384.3 304.7 L384.8 304.3 L385.3 303.2 L385.8 304.7 L386.3 303.9 L386.8 303.7 L387.3 304.8 L387.8 304.7 L388.3 303.8 L388.8 304.2 L389.3 304.5 L389.8 301.9 L390.3 303.8 L390.8 303.8 L391.3 304.6 L391.8 304.2 L392.3 302.5 L392.8 302.2 L393.3 302.3 L393.8 304.1 L394.3 303.9 L394.8 301.6 L395.3 304.6 L395.8 304.2 L396.3 303.3 L396.8 303.8 L397.3 304.3 L397.8 302.6 L398.3 302.4 L398.8 304.1 L399.3 302.7 L399.8 303.8 L400.3 304.7 L400.8 304.7 L401.3 301.6 L401.8 304.6 L402.3 304.5 L402.8 304.5 L403.3 303.0 L403.8 302.7 L404.3 304.0 L404.8 303.8 L405.3 304.0 L405.8 304.6 L406.3 303.8 L406.8 304.4 L407.3 303.7 L407.8 304.5 L408.3 304.1 L408.8 304.2 L409.3 303.7 L409.8 304.2 L410.3 303.8 L410.8 304.5 L411.3 303.9 L411.8 303.9 L412.3 303.1 L412.8 304.8 L413.3 304.6 L413.8 304.2 L414.3 304.7 L414.8 304.4 L415.3 302.2 L415.8 304.6 L416.3 302.1 L416.8 303.9 L417.3 304.4 L417.8 303.8 L418.3 304.7 L418.8 304.5 L419.3 304.6 L419.8 304.2 L420.3 304.6 L420.8 304.0 L421.3 304.3 L421.8 303.8 L422.3 304.6 L422.8 304.6 L423.3 303.9 L423.8 304.0 L424.3 304.7 L424.8 304.5 L425.3 304.6 L425.8 304.5 L426.3 304.6 L426.8 303.8 L427.3 304.6 L427.8 304.4 L428.3 304.6 L428.8 302.5 L429.3 303.3 L429.8 304.2 L430.3 304.2 L430.8 303.9 L431.3 304.6 L431.8 304.0 L432.3 303.0 L432.8 304.2 L433.3 304.6 L433.8 302.1 L434.3 301.9 L434.8 303.0 L435.3 304.1 L435.8 304.7 L436.3 304.7 L436.8 304.2 L437.3 304.3 L437.8 303.9 L438.3 303.9 L438.8 303.7 L439.3 301.6 L439.8 304.6 L440.3 304.1 L440.8 302.4 L441.3 304.3 L441.8 304.7 L442.3 304.4 L442.8 302.3 L443.3 304.8 L443.8 304.4 L444.3 304.1 L444.8 304.4 L445.3 304.2 L445.8 304.8 L446.3 301.8 L446.8 304.3 L447.3 304.5 L447.8 304.5 L448.3 303.7 L448.8 303.9 L449.3 304.7 L449.8 302.3 L450.3 303.8 L450.8 304.5 L451.3 304.0 L451.8 304.0 L452.3 304.2 L452.8 304.4 L453.3 304.4 L453.8 304.8 L454.3 304.5 L454.8 303.9 L455.3 304.6 L455.8 304.1 L456.3 302.5 L456.8 303.9 L457.3 303.9 L457.8 303.8 L458.3 304.1 L458.8 304.8 L459.3 302.9 L459.8 303.9 L460.3 304.2 L460.8 303.0 L461.3 304.1 L461.8 304.0 L462.3 304.7 L462.8 304.6 L463.3 304.6 L463.8 303.9 L464.3 304.2 L464.8 304.4 L465.3 304.0 L465.8 304.7 L466.3 304.0 L466.8 304.0 L467.3 303.7 L467.8 304.3 L468.3 304.7 L468.8 304.0 L469.3 302.4 L469.8 304.4 L470.3 304.6 L470.8 302.9 L471.3 304.8 L471.8 304.5 L472.3 304.1 L472.8 304.5 L473.3 304.1 L473.8 304.1 L474.3 301.8 L474.8 304.3 L475.3 304.7 L475.8 302.8 L476.3 302.7 L476.8 304.6 L477.3 304.3 L477.8 304.3 L478.3 304.6 L478.8 304.6 L479.3 302.2 L479.8 304.3 L480.3 304.7 L480.8 304.6 L481.3 304.7 L481.8 302.1 L482.3 304.4 L482.8 303.8 L483.3 304.6 L483.8 303.9 L484.3 303.8 L484.8 304.8 L485.3 304.1 L485.8 303.8 L486.3 304.1 L486.8 302.2 L487.3 302.9 L487.8 302.6 L488.3 304.6 L488.8 301.8 L489.3 303.1 L489.8 304.1 L490.3 304.3 L490.8 304.6 L491.3 304.6 L491.8 304.3 L492.3 301.9 L492.8 302.5 L493.3 303.8 L493.8 304.5 L494.3 304.1 L494.8 304.3 L495.3 304.7 L495.8 304.6 L496.3 304.1 L496.8 303.8 L497.3 303.8 L497.8 304.5 L498.3 304.2 L498.8 303.9 L499.3 304.0 L499.8 302.0 L500.3 304.2 L500.8 302.1 L501.3 303.0 L501.8 304.5 L502.3 304.5 L502.8 304.7 L503.3 304.5 L503.8 303.1 L504.3 301.8 L504.8 304.4 L505.3 304.1 L505.8 302.2 L506.3 304.0 L506.8 303.1 L507.3 304.7 L507.8 304.2 L508.3 303.3 L508.8 301.9 L509.3 304.8 L509.8 304.6 L510.3 304.6 L510.8 303.3 L511.3 304.3 L511.8 304.0 L512.3 301.7 L512.8 304.7 L513.3 304.2 L513.8 304.1 L514.3 304.6 L514.8 303.5 L515.3 304.3 L515.8 303.7 L516.3 304.6 L516.8 303.7 L517.3 304.3 L517.8 302.9 L518.3 304.7 L518.3 308.0 L517.8 308.0 L517.3 308.0 L516.8 308.0 L516.3 308.0 L515.8 308.0 L515.3 308.0 L514.8 308.0 L514.3 308.0 L513.8 308.0 L513.3 308.0 L512.8 308.0 L512.3 308.0 L511.8 308.0 L511.3 308.0 L510.8 308.0 L510.3 308.0 L509.8 308.0 L509.3 308.0 L508.8 308.0 L508.3 308.0 L507.8 308.0 L507.3 308.0 L506.8 308.0 L506.3 308.0 L505.8 308.0 L505.3 308.0 L504.8 308.0 L504.3 308.0 L503.8 308.0 L503.3 308.0 L502.8 308.0 L502.3 308.0 L501.8 308.0 L501.3 308.0 L500.8 308.0 L500.3 308.0 L499.8 308.0 L499.3 308.0 L498.8 308.0 L498.3 308.0 L497.8 308.0 L497.3 308.0 L496.8 308.0 L496.3 308.0 L495.8 308.0 L495.3 308.0 L494.8 308.0 L494.3 308.0 L493.8 308.0 L493.3 308.0 L492.8 308.0 L492.3 308.0 L491.8 308.0 L491.3 308.0 L490.8 308.0 L490.3 308.0 L489.8 308.0 L489.3 308.0 L488.8 308.0 L488.3 308.0 L487.8 308.0 L487.3 308.0 L486.8 308.0 L486.3 308.0 L485.8 308.0 L485.3 308.0 L484.8 308.0 L484.3 308.0 L483.8 308.0 L483.3 308.0 L482.8 308.0 L482.3 308.0 L481.8 308.0 L481.3 308.0 L480.8 308.0 L480.3 308.0 L479.8 308.0 L479.3 308.0 L478.8 308.0 L478.3 308.0 L477.8 308.0 L477.3 308.0 L476.8 308.0 L476.3 308.0 L475.8 308.0 L475.3 308.0 L474.8 308.0 L474.3 308.0 L473.8 308.0 L473.3 308.0 L472.8 308.0 L472.3 308.0 L471.8 308.0 L471.3 308.0 L470.8 308.0 L470.3 308.0 L469.8 308.0 L469.3 308.0 L468.8 308.0 L468.3 308.0 L467.8 308.0 L467.3 308.0 L466.8 308.0 L466.3 308.0 L465.8 308.0 L465.3 308.0 L464.8 308.0 L464.3 308.0 L463.8 308.0 L463.3 308.0 L462.8 308.0 L462.3 308.0 L461.8 308.0 L461.3 308.0 L460.8 308.0 L460.3 308.0 L459.8 308.0 L459.3 308.0 L458.8 308.0 L458.3 308.0 L457.8 308.0 L457.3 308.0 L456.8 308.0 L456.3 308.0 L455.8 308.0 L455.3 308.0 L454.8 308.0 L454.3 308.0 L453.8 308.0 L453.3 308.0 L452.8 308.0 L452.3 308.0 L451.8 308.0 L451.3 308.0 L450.8 308.0 L450.3 308.0 L449.8 308.0 L449.3 308.0 L448.8 308.0 L448.3 308.0 L447.8 308.0 L447.3 308.0 L446.8 308.0 L446.3 308.0 L445.8 308.0 L445.3 308.0 L444.8 308.0 L444.3 308.0 L443.8 308.0 L443.3 308.0 L442.8 308.0 L442.3 308.0 L441.8 308.0 L441.3 308.0 L440.8 308.0 L440.3 308.0 L439.8 308.0 L439.3 308.0 L438.8 308.0 L438.3 308.0 L437.8 308.0 L437.3 308.0 L436.8 308.0 L436.3 308.0 L435.8 308.0 L435.3 308.0 L434.8 308.0 L434.3 308.0 L433.8 308.0 L433.3 308.0 L432.8 308.0 L432.3 308.0 L431.8 308.0 L431.3 308.0 L430.8 308.0 L430.3 308.0 L429.8 308.0 L429.3 308.0 L428.8 308.0 L428.3 308.0 L427.8 308.0 L427.3 308.0 L426.8 308.0 L426.3 308.0 L425.8 308.0 L425.3 308.0 L424.8 308.0 L424.3 308.0 L423.8 308.0 L423.3 308.0 L422.8 308.0 L422.3 308.0 L421.8 308.0 L421.3 308.0 L420.8 308.0 L420.3 308.0 L419.8 308.0 L419.3 308.0 L418.8 308.0 L418.3 308.0 L417.8 308.0 L417.3 308.0 L416.8 308.0 L416.3 308.0 L415.8 308.0 L415.3 308.0 L414.8 308.0 L414.3 308.0 L413.8 308.0 L413.3 308.0 L412.8 308.0 L412.3 308.0 L411.8 308.0 L411.3 308.0 L410.8 308.0 L410.3 308.0 L409.8 308.0 L409.3 308.0 L408.8 308.0 L408.3 308.0 L407.8 308.0 L407.3 308.0 L406.8 308.0 L406.3 308.0 L405.8 308.0 L405.3 308.0 L404.8 308.0 L404.3 308.0 L403.8 308.0 L403.3 308.0 L402.8 308.0 L402.3 308.0 L401.8 308.0 L401.3 308.0 L400.8 308.0 L400.3 308.0 L399.8 308.0 L399.3 308.0 L398.8 308.0 L398.3 308.0 L397.8 308.0 L397.3 308.0 L396.8 308.0 L396.3 308.0 L395.8 308.0 L395.3 308.0 L394.8 308.0 L394.3 308.0 L393.8 308.0 L393.3 308.0 L392.8 308.0 L392.3 308.0 L391.8 308.0 L391.3 308.0 L390.8 308.0 L390.3 308.0 L389.8 308.0 L389.3 308.0 L388.8 308.0 L388.3 308.0 L387.8 308.0 L387.3 308.0 L386.8 308.0 L386.3 308.0 L385.8 308.0 L385.3 308.0 L384.8 308.0 L384.3 308.0 L383.8 308.0 L383.3 308.0 L382.8 308.0 L382.3 308.0 L381.8 308.0 L381.3 308.0 L380.8 308.0 L380.3 308.0 L379.8 308.0 L379.3 308.0 L378.8 308.0 L378.3 308.0 L377.8 308.0 L377.3 308.0 L376.8 308.0 L376.3 308.0 L375.8 308.0 L375.3 308.0 L374.8 308.0 L374.3 308.0 L373.8 308.0 L373.3 308.0 L372.8 308.0 L372.3 308.0 L371.8 308.0 L371.3 308.0 L370.8 308.0 L370.3 308.0 L369.8 308.0 L369.3 308.0 L368.8 308.0 L368.3 308.0 L367.8 308.0 L367.3 308.0 L366.8 308.0 L366.3 308.0 L365.8 308.0 L365.3 308.0 L364.8 308.0 L364.3 308.0 L363.8 308.0 L363.3 308.0 L362.8 308.0 L362.3 308.0 L361.8 308.0 L361.3 308.0 L360.8 308.0 L360.3 308.0 L359.8 308.0 L359.3 308.0 L358.8 308.0 L358.3 308.0 L357.8 308.0 L357.3 308.0 L356.8 308.0 L356.3 308.0 L355.8 308.0 L355.3 308.0 L354.8 308.0 L354.3 308.0 L353.8 308.0 L353.3 308.0 L352.8 308.0 L352.3 308.0 L351.8 308.0 L351.3 308.0 L350.8 308.0 L350.3 308.0 L349.8 308.0 L349.3 308.0 L348.8 308.0 L348.3 308.0 L347.8 308.0 L347.3 308.0 L346.8 308.0 L346.3 308.0 L345.8 308.0 L345.3 308.0 L344.8 308.0 L344.3 308.0 L343.8 308.0 L343.3 308.0 L342.8 308.0 L342.3 308.0 L341.8 308.0 L341.3 308.0 L340.8 308.0 L340.3 308.0 L339.8 308.0 L339.3 308.0 L338.8 308.0 L338.3 308.0 L337.8 308.0 L337.3 308.0 L336.8 308.0 L336.3 308.0 L335.8 308.0 L335.3 308.0 L334.8 308.0 L334.3 308.0 L333.8 308.0 L333.3 308.0 L332.8 308.0 L332.3 308.0 L331.8 308.0 L331.3 308.0 L330.8 308.0 L330.3 308.0 L329.8 308.0 L329.3 308.0 L328.8 308.0 L328.3 308.0 L327.8 308.0 L327.3 308.0 L326.8 308.0 L326.3 308.0 L325.8 308.0 L325.3 308.0 L324.8 308.0 L324.3 308.0 L323.8 308.0 L323.3 308.0 L322.8 308.0 L322.3 308.0 L321.8 308.0 L321.3 308.0 L320.8 308.0 L320.3 308.0 L319.8 308.0 L319.3 308.0 L318.8 308.0 L318.3 308.0 L317.8 308.0 L317.3 308.0 L316.8 308.0 L316.3 308.0 L315.8 308.0 L315.3 308.0 L314.8 308.0 L314.3 308.0 L313.8 308.0 L313.3 308.0 L312.8 308.0 L312.3 308.0 L311.8 308.0 L311.3 308.0 L310.8 308.0 L310.3 308.0 L309.8 308.0 L309.3 308.0 L308.8 308.0 L308.3 308.0 L307.8 308.0 L307.3 308.0 L306.8 308.0 L306.3 308.0 L305.8 308.0 L305.3 308.0 L304.8 308.0 L304.3 308.0 L303.8 308.0 L303.3 308.0 L302.8 308.0 L302.3 308.0 L301.8 308.0 L301.3 308.0 L300.8 308.0 L300.3 308.0 L299.8 308.0 L299.3 308.0 L298.8 308.0 L298.3 308.0 L297.8 308.0 L297.3 308.0 L296.8 308.0 L296.3 308.0 L295.8 308.0 L295.3 308.0 L294.8 308.0 L294.3 308.0 L293.8 308.0 L293.3 308.0 L292.8 308.0 L292.3 308.0 L291.8 308.0 L291.3 308.0 L290.8 308.0 L290.3 308.0 L289.8 308.0 L289.3 308.0 L288.8 308.0 L288.3 308.0 L287.8 308.0 L287.3 308.0 L286.8 308.0 L286.3 308.0 L285.8 308.0 L285.3 308.0 L284.8 308.0 L284.3 308.0 L283.8 308.0 L283.3 308.0 L282.8 308.0 L282.3 308.0 L281.8 308.0 L281.3 308.0 L280.8 308.0 L280.3 308.0 L279.8 308.0 L279.3 308.0 L278.8 308.0 L278.3 308.0 L277.8 308.0 L277.3 308.0 L276.8 308.0 L276.3 308.0 L275.8 308.0 L275.3 308.0 L274.8 308.0 L274.3 308.0 L273.8 308.0 L273.3 308.0 L272.8 308.0 L272.3 308.0 L271.8 308.0 L271.3 308.0 L270.8 308.0 L270.3 308.0 L269.8 308.0 L269.3 308.0 L268.8 308.0 L268.3 308.0 L267.8 308.0 L267.3 308.0 L266.8 308.0 L266.3 308.0 L265.8 308.0 L265.3 308.0 L264.8 308.0 L264.3 308.0 L263.8 308.0 L263.3 308.0 L262.8 308.0 L262.3 308.0 L261.8 308.0 L261.3 308.0 L260.8 308.0 L260.3 308.0 L259.8 308.0 L259.3 308.0 L258.8 308.0 L258.3 308.0 L257.8 308.0 L257.3 308.0 L256.8 308.0 L256.3 308.0 L255.8 308.0 L255.3 308.0 L254.8 308.0 L254.3 308.0 L253.8 308.0 L253.3 308.0 L252.8 308.0 L252.3 308.0 L251.8 308.0 L251.3 308.0 L250.8 308.0 L250.3 308.0 L249.8 308.0 L249.3 308.0 L248.8 308.0 L248.3 308.0 L247.8 308.0 L247.3 308.0 L246.8 308.0 L246.3 308.0 L245.8 308.0 L245.3 308.0 L244.8 308.0 L244.3 308.0 L243.8 308.0 L243.3 308.0 L242.8 308.0 L242.3 308.0 L241.8 308.0 L241.3 308.0 L240.8 308.0 L240.3 308.0 L239.8 308.0 L239.3 308.0 L238.8 308.0 L238.3 308.0 L237.8 308.0 L237.3 308.0 L236.8 308.0 L236.3 308.0 L235.8 308.0 L235.3 308.0 L234.8 308.0 L234.3 308.0 L233.8 308.0 L233.3 308.0 L232.8 308.0 L232.3 308.0 L231.8 308.0 L231.3 308.0 L230.8 308.0 L230.3 308.0 L229.8 308.0 L229.3 308.0 L228.8 308.0 L228.3 308.0 L227.8 308.0 L227.3 308.0 L226.8 308.0 L226.3 308.0 L225.8 308.0 L225.3 308.0 L224.8 308.0 L224.3 308.0 L223.8 308.0 L223.3 308.0 L222.8 308.0 L222.3 308.0 L221.8 308.0 L221.3 308.0 L220.8 308.0 L220.3 308.0 L219.8 308.0 L219.3 308.0 L218.8 308.0 L218.3 308.0 L217.8 308.0 L217.3 308.0 L216.8 308.0 L216.3 308.0 L215.8 308.0 L215.3 308.0 L214.8 308.0 L214.3 308.0 L213.8 308.0 L213.3 308.0 L212.8 308.0 L212.3 308.0 L211.8 308.0 L211.3 308.0 L210.8 308.0 L210.3 308.0 L209.8 308.0 L209.3 308.0 L208.8 308.0 L208.3 308.0 L207.8 308.0 L207.3 308.0 L206.8 308.0 L206.3 308.0 L205.8 308.0 L205.3 308.0 L204.8 308.0 L204.3 308.0 L203.8 308.0 L203.3 308.0 L202.8 308.0 L202.3 308.0 L201.8 308.0 L201.3 308.0 L200.8 308.0 L200.3 308.0 L199.8 308.0 L199.3 308.0 L198.8 308.0 L198.3 308.0 L197.8 308.0 L197.3 308.0 L196.8 308.0 L196.3 308.0 L195.8 308.0 L195.3 308.0 L194.8 308.0 L194.3 308.0 L193.8 308.0 L193.3 308.0 L192.8 308.0 L192.3 308.0 L191.8 308.0 L191.3 308.0 L190.8 308.0 L190.3 308.0 L189.8 308.0 L189.3 308.0 L188.8 308.0 L188.3 308.0 L187.8 308.0 L187.3 308.0 L186.8 308.0 L186.3 308.0 L185.8 308.0 L185.3 308.0 L184.8 308.0 L184.3 308.0 L183.8 308.0 L183.3 308.0 L182.8 308.0 L182.3 308.0 L181.8 308.0 L181.3 308.0 L180.8 308.0 L180.3 308.0 L179.8 308.0 L179.3 308.0 L178.8 308.0 L178.3 308.0 L177.8 308.0 L177.3 308.0 L176.8 308.0 L176.3 308.0 L175.8 308.0 L175.3 308.0 L174.8 308.0 L174.3 308.0 L173.8 308.0 L173.3 308.0 L172.8 308.0 L172.3 308.0 L171.8 308.0 L171.3 308.0 L170.8 308.0 L170.3 308.0 L169.8 308.0 L169.3 308.0 L168.8 308.0 L168.3 308.0 L167.8 308.0 L167.3 308.0 L166.8 308.0 L166.3 308.0 L165.8 308.0 L165.3 308.0 L164.8 308.0 L164.3 308.0 L163.8 308.0 L163.3 308.0 L162.8 308.0 L162.3 308.0 L161.8 308.0 L161.3 308.0 L160.8 308.0 L160.3 308.0 L159.8 308.0 L159.3 308.0 L158.8 308.0 L158.3 308.0 L157.8 308.0 L157.3 308.0 L156.8 308.0 L156.3 308.0 L155.8 308.0 L155.3 308.0 L154.8 308.0 L154.3 308.0 L153.8 308.0 L153.3 308.0 L152.8 308.0 L152.3 308.0 L151.8 308.0 L151.3 308.0 L150.8 308.0 L150.3 308.0 L149.8 308.0 L149.3 308.0 L148.8 308.0 L148.3 308.0 L147.8 308.0 L147.3 308.0 L146.8 308.0 L146.3 308.0 L145.8 308.0 L145.3 308.0 L144.8 308.0 L144.3 308.0 L143.8 308.0 L143.3 308.0 L142.8 308.0 L142.3 308.0 L141.8 308.0 L141.3 308.0 L140.8 308.0 L140.3 308.0 L139.8 308.0 L139.3 308.0 L138.8 308.0 L138.3 308.0 L137.8 308.0 L137.3 308.0 L136.8 308.0Z" fill="#ff8c14"/><path d="M138.1 285.3V305M146.0 300.5V305M168.0 301.0V305M205.7 289.0V305M227.0 300.8V305M241.6 300.7V305M248.9 288.3V305M253.3 282.1V305M259.2 300.7V305M265.8 300.7V305M279.5 292.7V305M282.0 290.5V305M289.3 301.5V305M297.3 294.9V305M315.6 300.7V305M339.5 299.5V305M346.0 295.5V305M355.5 268.8V305M357.6 293.4V305M384.0 300.7V305M395.4 297.0V305M410.4 300.0V305M432.4 295.6V305M434.6 297.0V305M438.0 291.2V305M441.2 295.6V305M443.4 300.0V305M464.2 286.5V305M466.1 299.3V305M482.5 298.5V305M508.2 300.7V305M511.6 286.8V305M514.0 289.7V305" stroke="#ff8c14" stroke-width="2" fill="none"/><path d="M536.85 48.5V319.85H119.5" fill="none" stroke="#c4c4c4" stroke-width="1.2"/><path d="M119.5 320V48.5H537.4" fill="none" stroke="#a4acb2" stroke-width="1"/><line x1="114.7" x2="119.5" y1="316.45" y2="316.45" stroke="#c8c8c8" stroke-width="1"/><line x1="114.7" x2="119.5" y1="270.25" y2="270.25" stroke="#c8c8c8" stroke-width="1"/><line x1="114.7" x2="119.5" y1="224.05" y2="224.05" stroke="#c8c8c8" stroke-width="1"/><line x1="114.7" x2="119.5" y1="177.85" y2="177.85" stroke="#c8c8c8" stroke-width="1"/><line x1="114.7" x2="119.5" y1="131.65" y2="131.65" stroke="#c8c8c8" stroke-width="1"/><line x1="114.7" x2="119.5" y1="85.45" y2="85.45" stroke="#c8c8c8" stroke-width="1"/><line x1="137.96" x2="137.96" y1="319.5" y2="324.5" stroke="#c8c8c8" stroke-width="1"/><line x1="214.07" x2="214.07" y1="319.5" y2="324.5" stroke="#c8c8c8" stroke-width="1"/><line x1="290.18" x2="290.18" y1="319.5" y2="324.5" stroke="#c8c8c8" stroke-width="1"/><line x1="366.28" x2="366.28" y1="319.5" y2="324.5" stroke="#c8c8c8" stroke-width="1"/><line x1="442.39" x2="442.39" y1="319.5" y2="324.5" stroke="#c8c8c8" stroke-width="1"/><line x1="518.50" x2="518.50" y1="319.5" y2="324.5" stroke="#c8c8c8" stroke-width="1"/><rect x="563.6" y="54.6" width="138.1" height="40.2" rx="2.5" fill="#0a0a0a" stroke="#3a3a3a" stroke-width="1"/><line x1="566.8" x2="593.9" y1="65" y2="65" stroke="#2e8fde" stroke-width="2"/><line x1="566.8" x2="593.9" y1="83.5" y2="83.5" stroke="#ff8c14" stroke-width="2"/>
<text x="108.8" y="321.25" text-anchor="end" textLength="41" lengthAdjust="spacingAndGlyphs">0.0000</text><text x="108.8" y="275.05" text-anchor="end" textLength="41" lengthAdjust="spacingAndGlyphs">0.0005</text><text x="108.8" y="228.85" text-anchor="end" textLength="41" lengthAdjust="spacingAndGlyphs">0.0010</text><text x="108.8" y="182.65" text-anchor="end" textLength="41" lengthAdjust="spacingAndGlyphs">0.0015</text><text x="108.8" y="136.45" text-anchor="end" textLength="41" lengthAdjust="spacingAndGlyphs">0.0020</text><text x="108.8" y="90.25" text-anchor="end" textLength="41" lengthAdjust="spacingAndGlyphs">0.0025</text><text x="137.96" y="339.4" text-anchor="middle">0</text><text x="214.07" y="339.4" text-anchor="middle" textLength="30.1" lengthAdjust="spacingAndGlyphs">1000</text><text x="290.18" y="339.4" text-anchor="middle" textLength="30.1" lengthAdjust="spacingAndGlyphs">2000</text><text x="366.28" y="339.4" text-anchor="middle" textLength="30.1" lengthAdjust="spacingAndGlyphs">3000</text><text x="442.39" y="339.4" text-anchor="middle" textLength="30.1" lengthAdjust="spacingAndGlyphs">4000</text><text x="518.50" y="339.4" text-anchor="middle" textLength="30.1" lengthAdjust="spacingAndGlyphs">5000</text><text x="326.8" y="356.7" text-anchor="middle" textLength="51.6" lengthAdjust="spacingAndGlyphs">Query #</text><text transform="translate(58.9,185) rotate(-90)" text-anchor="middle">Time (s)</text><text x="603.3" y="69.7" textLength="48" lengthAdjust="spacingAndGlyphs">Storage</text><text x="602.8" y="88.9" textLength="93.6" lengthAdjust="spacingAndGlyphs">Reconstruction</text>
</svg></body></html>
